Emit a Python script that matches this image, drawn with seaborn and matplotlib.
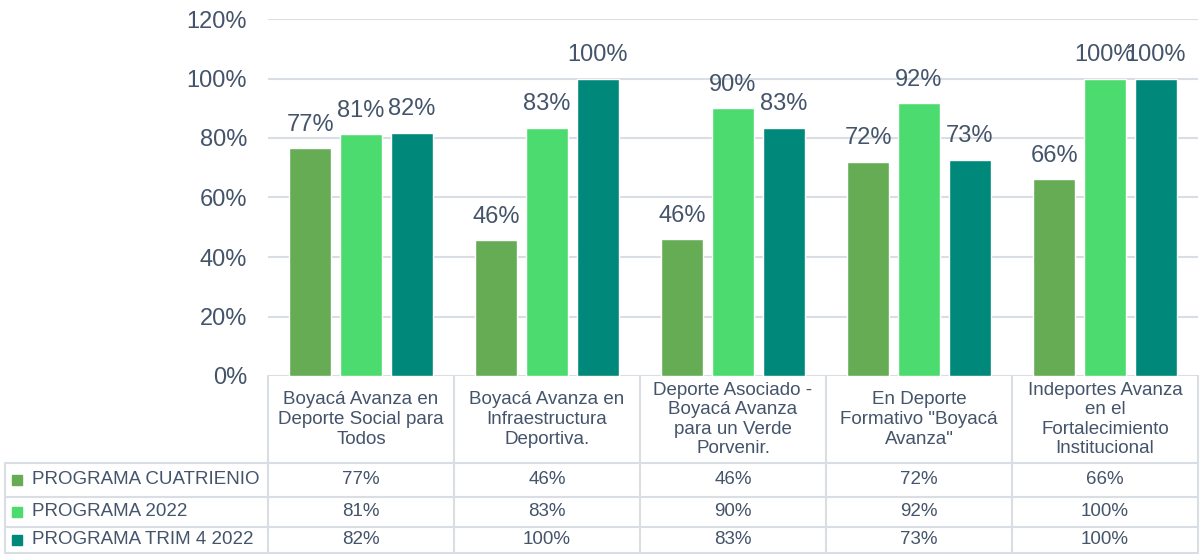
import numpy as np
import pandas as pd
import seaborn as sns
import matplotlib.pyplot as plt
import matplotlib.transforms as mtransforms
from matplotlib.patches import Rectangle

# Data
categorias = [
    "Boyacá Avanza en\nDeporte Social para\nTodos",
    "Boyacá Avanza en\nInfraestructura\nDeportiva.",
    "Deporte Asociado -\nBoyacá Avanza\npara un Verde\nPorvenir.",
    "En Deporte\nFormativo \"Boyacá\nAvanza\"",
    "Indeportes Avanza\nen el\nFortalecimiento\nInstitucional",
]
series = ["PROGRAMA CUATRIENIO", "PROGRAMA 2022", "PROGRAMA TRIM 4 2022"]
cuatrienio = [0.766, 0.457, 0.459, 0.72, 0.662]
prog_2022 = [0.813, 0.834, 0.90, 0.917, 1.0]
trim4_2022 = [0.818, 1.0, 0.834, 0.727, 1.0]
colores = ["#66AC55", "#4CDB6E", "#00897B"]

TXT = "#44546A"
GRID = "#D9DEE5"

df = pd.DataFrame({
    "cat": categorias * 3,
    "serie": np.repeat(series, len(categorias)),
    "valor": cuatrienio + prog_2022 + trim4_2022,
})

sns.set_style("white")
plt.rcParams['font.family'] = ['Liberation Sans', 'DejaVu Sans']

W, H = 1201, 554
fig = plt.figure(figsize=(W / 100, H / 100), dpi=100)
ax = fig.add_axes([268 / W, 1 - 376 / H, 930 / W, 357 / H])

sns.barplot(data=df, x="cat", y="valor", hue="serie", hue_order=series,
            palette=colores, width=0.82, gap=0.17, saturation=1,
            legend=False, ax=ax, zorder=3)

for cont in ax.containers:
    ax.bar_label(cont, labels=[f"{v:.0%}" for v in cont.datavalues],
                 padding=9, fontsize=17, color=TXT)

ax.set_xlim(-0.5, len(categorias) - 0.5)
ax.set_ylim(0, 1.2)
ax.set_yticks(np.arange(0, 1.21, 0.2))
ax.set_yticklabels([f"{t:.0%}" for t in np.arange(0, 1.21, 0.2)], fontsize=17, color=TXT)
ax.yaxis.grid(True, color=GRID, lw=1.5, zorder=0)
ax.tick_params(axis="y", length=0, pad=15)
ax.set_xticks([])
ax.set_xlabel("")
ax.set_ylabel("")
for s in ax.spines.values():
    s.set_visible(False)

# data table under the chart
tr = mtransforms.blended_transform_factory(ax.transData, fig.transFigure)
fy = lambda px: 1 - px / H
row_y = [376, 463, 497, 527, 553]
line_kw = dict(color=GRID, lw=1.5, clip_on=False)

n = len(categorias)
for i in range(n + 1):
    ax.plot([i - 0.5, i - 0.5], [fy(row_y[0]), fy(row_y[-1])], transform=tr, **line_kw)
for y in row_y[1:]:
    fig.add_artist(plt.Line2D([5 / W, 1198 / W], [fy(y), fy(y)], **line_kw))
fig.add_artist(plt.Line2D([5 / W, 5 / W], [fy(row_y[1]), fy(row_y[-1])], **line_kw))

for i, c in enumerate(categorias):
    ax.text(i, fy((row_y[0] + row_y[1]) / 2), c, transform=tr, ha="center",
            va="center", fontsize=13.5, color=TXT, linespacing=1.2)

valores = [cuatrienio, prog_2022, trim4_2022]
for r, (nombre, vals, col) in enumerate(zip(series, valores, colores)):
    yc = fy((row_y[r + 1] + row_y[r + 2]) / 2)
    fig.add_artist(Rectangle((12 / W, yc - 5 / H), 10 / W, 10 / H,
                             transform=fig.transFigure, color=col))
    fig.text(32 / W, yc, nombre, ha="left", va="center", fontsize=13.5, color=TXT)
    for i, v in enumerate(vals):
        ax.text(i, yc, f"{v:.0%}", transform=tr, ha="center", va="center",
                fontsize=13.5, color=TXT)

fig.savefig("out.png", dpi=100)
